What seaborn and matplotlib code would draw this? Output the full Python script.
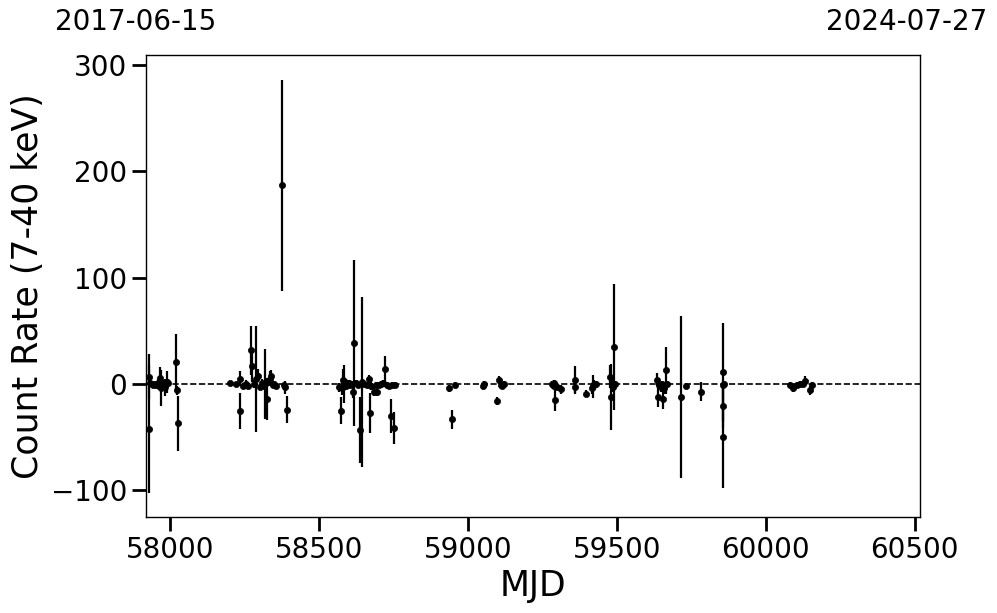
import numpy as np
import pandas as pd
import matplotlib
matplotlib.use("Agg")
import matplotlib.pyplot as plt
import seaborn as sns

mjd = [57929, 57930, 57933, 57938, 57943, 57948, 57953, 57958, 57962, 57966, 57968,
       57973, 57978, 57983, 57990, 57994, 58020, 58022, 58027,
       58201, 58222, 58235, 58236, 58244, 58250, 58256, 58262, 58270, 58274, 58280,
       58290, 58295, 58302, 58308, 58315, 58320, 58324, 58330, 58336, 58340, 58344,
       58350, 58355, 58375, 58382, 58386, 58391,
       58568, 58573, 58576, 58580, 58583, 58586, 58590, 58595, 58600, 58605, 58610,
       58614, 58619, 58624, 58630, 58638, 58645, 58652, 58660, 58668, 58670, 58676,
       58683, 58690, 58696, 58702, 58708, 58716, 58722, 58728, 58735, 58741, 58746,
       58752, 58756,
       58938, 58946, 58957, 59051, 59055, 59098, 59106, 59110, 59116, 59122,
       59283, 59286, 59288, 59290, 59293, 59298, 59312, 59358, 59360, 59396,
       59416, 59420, 59424, 59430, 59478, 59480, 59483, 59486, 59488, 59491, 59495,
       59636, 59638, 59642, 59648, 59652, 59655, 59658, 59662, 59666, 59670,
       59716, 59731, 59783, 59855, 59856, 59857, 59858, 59859,
       60082, 60093, 60105, 60115, 60125, 60132, 60149, 60155]
rate = [-42, 7, 1, 0, -1, 0, -1, 1, -2, 6, -4,
        -1, 1, -3, 2, 1, 21, -6, -37,
        1, 0, 5, -25, -2, -1, 0, -2, 32, 17, 0,
        5, 8, -3, 1, -2, 0, -14, 2, 5, 8, -1,
        0, -2, 187, -1, -3, -24,
        -3, -25, -4, 4, 0, 2, -2, 0, 1, -1, 0,
        -7, 39, 1, -1, -43, 2, 0, -1, 5, -27, -2,
        -7, -1, -7, -1, 0, 1, 14, -1, -2, -30, -1,
        -41, -1,
        -4, -33, -1, -2, 0, -16, 4, -1, -2, 0,
        0, -1, 1, -2, -15, -3, -5, 4, -3, -9,
        -4, -2, 0, 0, 7, -12, -1, 0, -3, 35, 0,
        4, -12, -1, -3, 0, -14, -4, -1, 13, 0,
        -12, -2, -7, -50, 11, -21, -1, 0,
        -1, -4, -1, 0, 0, 3, -6, -1]
err = [60, 21, 3, 2, 3, 2, 3, 4, 4, 10, 17,
       3, 3, 8, 10, 4, 26, 4, 26,
       2, 2, 7, 17, 3, 3, 4, 3, 23, 15, 4,
       50, 6, 3, 4, 3, 33, 20, 3, 7, 5, 3,
       3, 3, 99, 3, 6, 13,
       4, 13, 6, 10, 18, 4, 3, 3, 3, 3, 3,
       6, 78, 3, 3, 31, 80, 3, 3, 4, 19, 4,
       4, 3, 4, 3, 3, 3, 12, 3, 3, 16, 3,
       15, 3,
       3, 9, 3, 3, 3, 4, 4, 3, 3, 3,
       3, 3, 3, 3, 10, 3, 4, 13, 5, 3,
       5, 11, 4, 3, 11, 31, 4, 4, 4, 59, 3,
       6, 10, 4, 4, 3, 9, 5, 3, 22, 3,
       76, 3, 9, 48, 46, 20, 4, 3,
       3, 3, 3, 3, 3, 5, 4, 3]

start_label = "2017-06-15"
end_label = "2024-07-27"
xlim = (57919, 60518)
ylim = (-125, 309.5)

df = pd.DataFrame({"MJD": mjd, "rate": rate, "err": err})

sns.set_theme(style="ticks")
plt.rcParams['font.family'] = ['DejaVu Sans']
plt.rcParams['text.color'] = 'black'

fig = plt.figure(figsize=(9.97, 6.13), dpi=100)
ax = fig.add_axes([146/997, 96/613, 774/997, 462/613])

ax.errorbar(df["MJD"], df["rate"], yerr=df["err"], fmt="none",
            ecolor="black", elinewidth=1.6, capsize=0, zorder=2)
sns.scatterplot(data=df, x="MJD", y="rate", ax=ax, color="black", s=20,
                edgecolor="black", linewidth=0.5, zorder=3, legend=False)
ax.axhline(0, color="black", linestyle="--", linewidth=1.2, zorder=1)

ax.set_xlim(*xlim)
ax.set_ylim(*ylim)
ax.set_xticks([58000, 58500, 59000, 59500, 60000, 60500])
ax.set_yticks([-100, 0, 100, 200, 300])
ax.set_xlabel("MJD", fontsize=25, color="black")
ax.set_ylabel("Count Rate (7-40 keV)", fontsize=25, color="black")
ax.tick_params(axis="both", which="major", labelsize=20, length=10, width=2,
               direction="out", colors="black")
for s in ax.spines.values():
    s.set_color("black")
    s.set_linewidth(1.0)

fig.text(136/997, 1 - 22/613, start_label, fontsize=20, ha="center", va="center",
         color="black")
fig.text(907/997, 1 - 22/613, end_label, fontsize=20, ha="center", va="center",
         color="black")

fig.savefig("out.png", dpi=100)
